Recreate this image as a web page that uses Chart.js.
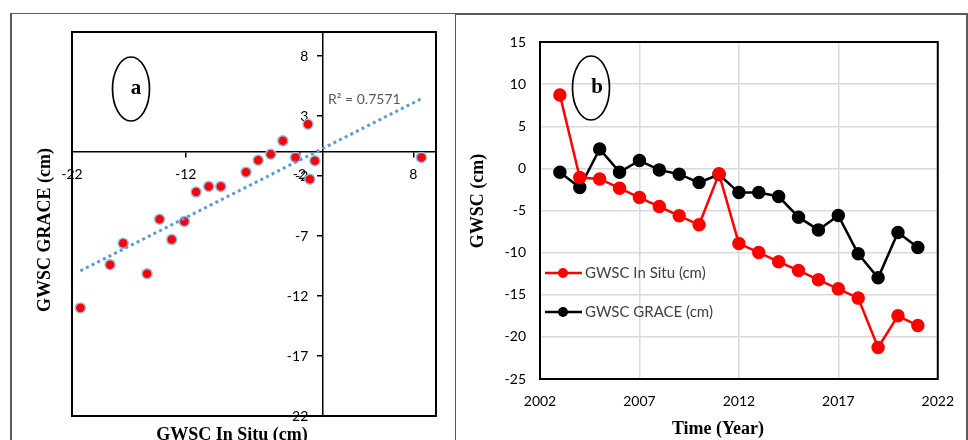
<!DOCTYPE html>
<html><head><meta charset="utf-8">
<script src="https://cdn.jsdelivr.net/npm/chart.js@4/dist/chart.umd.min.js"></script>
<style>
html,body{margin:0;padding:0;background:#fff;width:968px;height:440px;overflow:hidden;position:relative}
canvas{position:absolute;top:0}
#c1{left:0}
#c2{left:455px}
.ln{position:absolute;background:#5a5a5a}
</style></head><body>
<div class="ln" style="left:10px;top:12.5px;width:446px;height:1.5px"></div>
<div class="ln" style="left:10px;top:12.5px;width:1.5px;height:430px"></div>
<div class="ln" style="left:454.5px;top:12.5px;width:1.5px;height:430px"></div>
<div class="ln" style="left:455px;top:13px;width:513px;height:2px"></div>
<div class="ln" style="left:966px;top:13px;width:1.5px;height:430px"></div>
<canvas id="c1" width="455" height="440"></canvas>
<canvas id="c2" width="513" height="440"></canvas>
<script>
// ---- data ----
const years = [2003,2004,2005,2006,2007,2008,2009,2010,2011,2012,2013,2014,2015,2016,2017,2018,2019,2020,2021];
const inSitu = [8.72,-1.09,-1.25,-2.35,-3.46,-4.53,-5.63,-6.70,-0.65,-8.92,-9.98,-11.09,-12.12,-13.23,-14.30,-15.40,-21.26,-17.50,-18.65];
const grace = [-0.45,-2.27,2.31,-0.45,0.93,-0.18,-0.69,-1.68,-0.73,-2.87,-2.87,-3.34,-5.79,-7.30,-5.60,-10.14,-12.99,-7.61,-9.39];
const scatterXTicks = [-22,-12,-2,8];
const scatterYTicks = [8,3,-2,-7,-12,-17,-22];
const timeTicks = [2002,2007,2012,2017,2022];
const gwscTicks = [15,10,5,0,-5,-10,-15,-20,-25];
const seriesNames = ['GWSC In Situ (cm)','GWSC GRACE (cm)'];
const r2Label = 'R\u00B2 = 0.7571';
const panelLabels = ['a','b'];

// ---- linear trendline (least squares of the data above) ----
const n = inSitu.length;
const mx = inSitu.reduce((a,b)=>a+b,0)/n, my = grace.reduce((a,b)=>a+b,0)/n;
let sxy=0, sxx=0;
for (let i=0;i<n;i++){ sxy+=(inSitu[i]-mx)*(grace[i]-my); sxx+=(inSitu[i]-mx)**2; }
const slope = sxy/sxx, icpt = my - slope*mx;
const xLo = Math.min(...inSitu), xHi = Math.max(...inSitu);

const tickFont = {family:'Lato', size:14};
const titleFont = 'bold 18px "Liberation Serif"';

function ellipseLabel(ctx, cx, cy, tx, txt){
  ctx.save();
  ctx.beginPath(); ctx.ellipse(cx, cy, 18.5, 32, 0, 0, Math.PI*2);
  ctx.lineWidth = 1.7; ctx.strokeStyle = '#000'; ctx.stroke();
  ctx.fillStyle = '#000'; ctx.font = 'bold 21px "Liberation Serif"';
  ctx.textAlign = 'center'; ctx.textBaseline = 'middle';
  ctx.fillText(txt, tx, cy);
  ctx.restore();
}

// shift the labels of a centre-positioned y axis away from its axis line
function shiftYLabels(s){
  if (s._shifted) return;
  s._shifted = true;
  const orig = s.drawLabels.bind(s);
  s.drawLabels = function(area){
    this.ctx.save(); this.ctx.translate(-14, 0); orig(area); this.ctx.restore();
  };
}

const frame1 = {
  id:'frame1',
  afterDraw(chart){
    const {ctx, chartArea:a} = chart;
    ctx.save();
    ctx.strokeStyle = '#000'; ctx.lineWidth = 2;
    ctx.strokeRect(a.left, a.top, a.right-a.left, a.bottom-a.top);
    ctx.fillStyle = '#595959'; ctx.font = '14px Lato';
    ctx.textAlign = 'left'; ctx.textBaseline = 'middle';
    ctx.fillText(r2Label, 328, 99);
    ctx.fillStyle = '#000'; ctx.font = titleFont; ctx.textAlign = 'center';
    ctx.textBaseline = 'alphabetic';
    ctx.fillText('GWSC In Situ (cm)', 232, 440);
    ctx.translate(50, 230); ctx.rotate(-Math.PI/2);
    ctx.fillText('GWSC GRACE (cm)', 0, 0);
    ctx.restore();
    ellipseLabel(ctx, 131, 89, 136, panelLabels[0]);
  }
};

new Chart(document.getElementById('c1'), {
  type:'scatter',
  data:{datasets:[
    {label:'points', data: inSitu.map((v,i)=>({x:v, y:grace[i]})),
     backgroundColor:'#ff0000', borderColor:'#8fbde6', borderWidth:1.5, pointRadius:5, pointHoverRadius:5, order:1},
    {label:'trend', type:'line', data:[{x:xLo,y:slope*xLo+icpt},{x:xHi,y:slope*xHi+icpt}],
     borderColor:'#5b9bd5', borderWidth:3, borderDash:[3,3.3], borderCapStyle:'butt', pointRadius:0, fill:false, order:0}
  ]},
  options:{
    responsive:false, animation:false, events:[], devicePixelRatio:1,
    layout:{padding:{left:72, top:32, right:19, bottom:24}},
    plugins:{legend:{display:false}, tooltip:{enabled:false}},
    scales:{
      x:{type:'linear', min:-22, max:10, position:{y:0},
         afterBuildTicks:s=>{s.ticks = scatterXTicks.map(v=>({value:v}));},
         grid:{drawOnChartArea:false, drawTicks:true, tickLength:5, color:'#000', lineWidth:1.5},
         border:{display:true, color:'#000', width:1.5},
         ticks:{font:tickFont, color:'#000', padding:9, maxRotation:0, autoSkip:false}},
      y:{type:'linear', min:-22, max:10, position:{x:0},
         afterBuildTicks:s=>{s.ticks = scatterYTicks.map(v=>({value:v}));},
         afterUpdate: shiftYLabels,
         grid:{drawOnChartArea:false, drawTicks:true, tickLength:5, color:'#000', lineWidth:1.5},
         border:{display:true, color:'#000', width:1.5},
         ticks:{font:tickFont, color:'#000', padding:8, autoSkip:false}}
    }
  },
  plugins:[frame1]
});

const frame2 = {
  id:'frame2',
  beforeDatasetsDraw(chart){
    const {ctx, chartArea:a} = chart;
    ctx.save();
    ctx.strokeStyle = '#000'; ctx.lineWidth = 2;
    ctx.strokeRect(a.left, a.top, a.right-a.left, a.bottom-a.top);
    ctx.restore();
  },
  afterDraw(chart){
    const ctx = chart.ctx;
    ctx.save();
    // legend
    const rows = [273, 312];
    chart.data.datasets.forEach((ds, i)=>{
      const y = rows[i];
      ctx.strokeStyle = ds.borderColor; ctx.lineWidth = 2.5;
      ctx.beginPath(); ctx.moveTo(90, y); ctx.lineTo(127, y); ctx.stroke();
      ctx.fillStyle = ds.backgroundColor;
      ctx.beginPath(); ctx.arc(108, y, 5, 0, Math.PI*2); ctx.fill();
      ctx.fillStyle = '#404040'; ctx.font = '15px Lato';
      ctx.textAlign = 'left'; ctx.textBaseline = 'middle';
      ctx.fillText(ds.label, 130, y);
    });
    ctx.fillStyle = '#000'; ctx.font = titleFont; ctx.textAlign = 'center';
    ctx.textBaseline = 'alphabetic';
    ctx.fillText('Time (Year)', 263, 434);
    ctx.translate(28, 201); ctx.rotate(-Math.PI/2);
    ctx.fillText('GWSC (cm)', 0, 0);
    ctx.restore();
    ellipseLabel(ctx, 136, 88, 142, panelLabels[1]);
  }
};

new Chart(document.getElementById('c2'), {
  type:'line',
  data:{datasets:[
    {label:seriesNames[0], data: years.map((yr,i)=>({x:yr, y:inSitu[i]})),
     borderColor:'#ff0000', backgroundColor:'#ff0000', borderWidth:2.5, pointRadius:5.5, pointHoverRadius:5.5, tension:0, fill:false},
    {label:seriesNames[1], data: years.map((yr,i)=>({x:yr, y:grace[i]})),
     borderColor:'#000000', backgroundColor:'#000000', borderWidth:2.5, pointRadius:5.5, pointHoverRadius:5.5, tension:0, fill:false}
  ]},
  options:{
    responsive:false, animation:false, events:[], devicePixelRatio:1,
    layout:{padding:{left:0, top:42, right:29, bottom:0}},
    plugins:{legend:{display:false}, tooltip:{enabled:false}},
    scales:{
      x:{type:'linear', min:2002, max:2022,
         afterBuildTicks:s=>{s.ticks = timeTicks.map(v=>({value:v}));},
         afterFit:s=>{s.height = 61;},
         grid:{color:'#d9d9d9', lineWidth:1.5, drawTicks:false},
         border:{display:false},
         ticks:{font:tickFont, color:'#000', padding:14, maxRotation:0, autoSkip:false, callback:v=>String(v)}},
      y:{type:'linear', min:-25, max:15,
         afterBuildTicks:s=>{s.ticks = gwscTicks.map(v=>({value:v}));},
         afterFit:s=>{s.width = 85;},
         grid:{color:'#d9d9d9', lineWidth:1.5, drawTicks:false},
         border:{display:false},
         ticks:{font:tickFont, color:'#000', padding:14, autoSkip:false}}
    }
  },
  plugins:[frame2]
});
</script>
</body></html>
